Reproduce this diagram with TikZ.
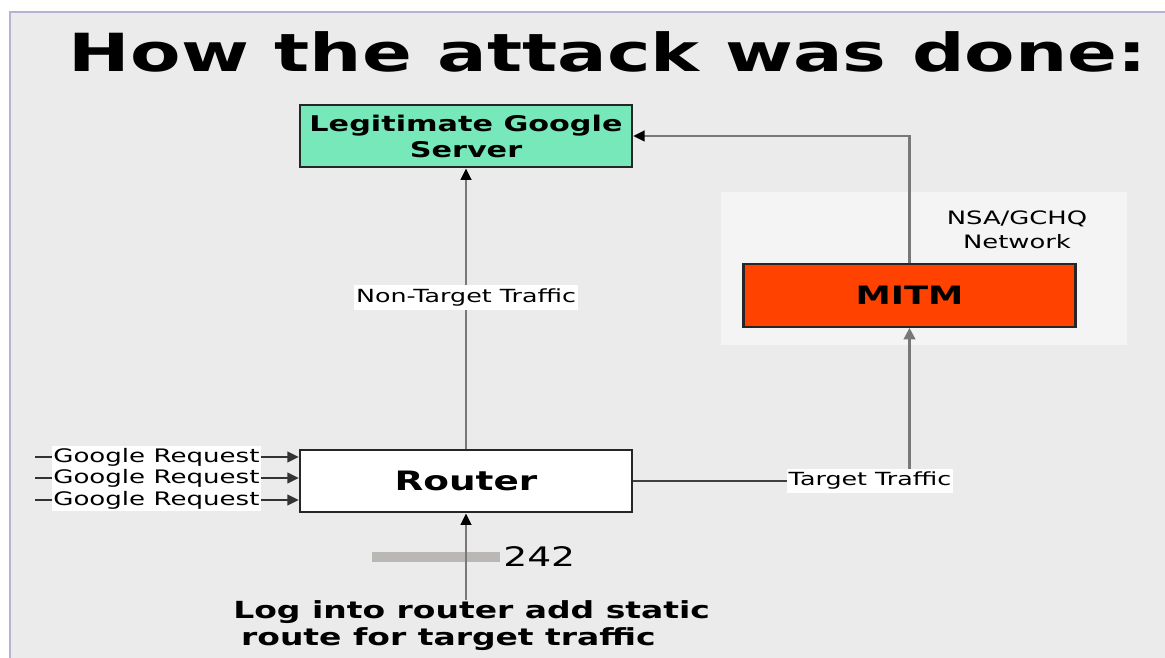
\documentclass[tikz,border=0pt]{standalone}
\usepackage{fontspec}
\setmainfont{DejaVu Sans}[FakeStretch=1.4]
\usepackage{tikz}
\usetikzlibrary{arrows.meta, positioning}

\definecolor{slidebg}{HTML}{EBEBEB}
\definecolor{netbg}{HTML}{F4F4F4}
\definecolor{servergreen}{HTML}{76E8B9}
\definecolor{mitmred}{HTML}{FF4200}
\definecolor{edgegray}{HTML}{787878}
\definecolor{bargray}{HTML}{B9B8B5}
\definecolor{frameline}{HTML}{B4B4D2}

\begin{document}
\begin{tikzpicture}[
    x=0.02cm, y=-0.02cm,
    % Styles
    box/.style={
        draw=black!85, line width=1.3pt, align=center, inner sep=0pt,
        minimum width=6.64cm, minimum height=1.25cm,
        font=\fontsize{12.3}{14.8}\selectfont\bfseries
    },
    tag/.style={fill=white, inner xsep=1pt, inner ysep=2pt, font=\fontsize{10.3}{12}\selectfont},
    link/.style={-{Triangle[length=6.5pt, width=6pt]}, line width=1.3pt, draw=black!80},
    grayarrow/.style={-{Triangle[length=6.5pt, width=6pt, color=black]}, line width=1.4pt, draw=edgegray},
    grayline/.style={-{Triangle[length=6.5pt, width=6.5pt]}, line width=1.4pt, draw=edgegray}
]

    % --- Canvas ---
    \useasboundingbox (0,0) rectangle (1165,658);
    \fill[white] (0,0) rectangle (1165,658);
    \fill[slidebg] (10,12) rectangle (1165,658);
    \draw[frameline, line width=0.8pt] (10,658) -- (10,12) -- (1165,12);

    % --- Title ---
    \node[anchor=base, font=\fontsize{29.9}{34}\selectfont\bfseries] (title) at (608,72) {How the attack was done:};

    % --- NSA/GCHQ network ---
    \node[fill=netbg, minimum width=8.12cm, minimum height=3.06cm, inner sep=0pt] (net) at (924,268.5) {};
    \node[align=center, font=\fontsize{10.5}{13.6}\selectfont] (netlabel) at (1017,230) {NSA/GCHQ\\Network};
    \node[box, fill=mitmred, font=\fontsize{14.4}{17}\selectfont\bfseries] (mitm) at (909.5,295.5) {MITM};

    % --- Server and router ---
    \node[box, fill=servergreen] (server) at (466,136) {Legitimate Google\\Server};
    \node[box, fill=white, font=\fontsize{15.2}{18}\selectfont\bfseries] (router) at (466,481) {Router};

    % --- Connections ---
    \draw[grayarrow] (router.north) -- node[tag, pos=0.54] {Non-Target Traffic} (server.south);
    \draw[grayarrow] (mitm.north) |- (server.east);
    \coordinate (turn) at (router.east -| mitm.south);
    \draw[grayline] (turn) -- (mitm.south);
    \draw[line width=1.3pt, draw=black!75] (router.east) -- node[tag, pos=0.857] {Target Traffic} (turn);

    \foreach \y [count=\i] in {457,478,500} {
        \coordinate (src\i) at (35,\y);
        \draw[link] (src\i) -- node[tag, pos=0.46, inner ysep=1pt, font=\fontsize{10.6}{12}\selectfont] {Google Request} (src\i -| router.west);
    }

    % --- Static route ---
    \node[fill=bargray, minimum width=2.56cm, minimum height=0.2cm, inner sep=0pt] (bar) at (436,557) {};
    \node[anchor=west, inner sep=0pt, font=\fontsize{15.3}{18}\selectfont] (count) at (503,557) {242};
    \node[anchor=north west, align=left, inner sep=0pt, font=\fontsize{13.4}{15.3}\selectfont\bfseries] (note) at (233,600) {Log into router add static\\\hspace*{0.33em}route for target traffic};
    \draw[grayarrow] (note.north -| router.south) -- (router.south);

\end{tikzpicture}
\end{document}
